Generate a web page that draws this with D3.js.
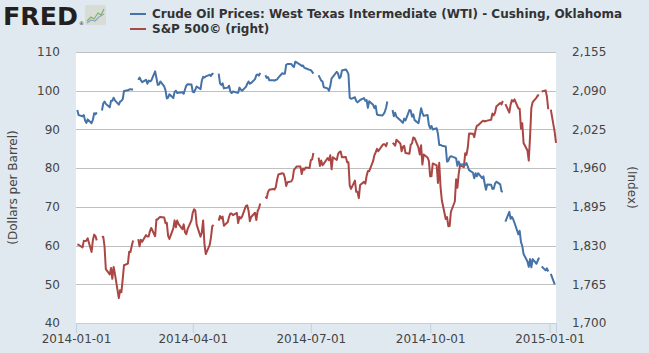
<!DOCTYPE html>
<html>
<head>
<meta charset="utf-8">
<script src="https://cdn.jsdelivr.net/npm/d3@7"></script>
<style>
  body { margin: 0; background: #e1e9f0; }
  svg { display: block; font-family: "DejaVu Sans", Verdana, sans-serif; }
</style>
</head>
<body>
<svg id="chart" width="649" height="353"></svg>
<script>
// WTI crude, dollars per barrel (null = missing day, line breaks)
const oilSeries = [
  ["2014-01-02",95.0],["2014-01-03",93.7],["2014-01-06",93.4],["2014-01-07",93.7],["2014-01-08",92.3],["2014-01-09",91.7],["2014-01-10",92.6],["2014-01-13",91.6],["2014-01-14",92.5],["2014-01-15",94.2],["2014-01-16",93.9],["2014-01-17",94.4],["2014-01-20",null],
  ["2014-01-21",94.9],["2014-01-22",96.7],["2014-01-23",97.2],["2014-01-24",96.6],["2014-01-27",95.7],["2014-01-28",97.4],["2014-01-29",97.4],["2014-01-30",98.2],["2014-01-31",97.5],
  ["2014-02-03",96.4],["2014-02-04",97.2],["2014-02-05",97.4],["2014-02-06",97.8],["2014-02-07",99.9],["2014-02-10",100.1],["2014-02-11",100.3],["2014-02-12",100.4],["2014-02-13",100.3],["2014-02-14",100.3],["2014-02-17",null],
  ["2014-02-18",102.8],["2014-02-19",103.4],["2014-02-20",102.7],["2014-02-21",102.2],["2014-02-24",102.8],["2014-02-25",101.8],["2014-02-26",102.6],["2014-02-27",102.4],["2014-02-28",102.6],
  ["2014-03-03",105.0],["2014-03-04",103.3],["2014-03-05",101.5],["2014-03-06",101.6],["2014-03-07",102.4],["2014-03-10",101.1],["2014-03-11",100.1],["2014-03-12",98.0],["2014-03-13",98.2],["2014-03-14",99.1],["2014-03-17",98.1],["2014-03-18",99.7],["2014-03-19",100.0],["2014-03-20",99.4],["2014-03-21",99.5],["2014-03-24",99.6],["2014-03-25",99.2],["2014-03-26",100.3],["2014-03-27",101.3],["2014-03-28",101.7],["2014-03-31",101.6],
  ["2014-04-01",99.7],["2014-04-02",99.6],["2014-04-03",100.3],["2014-04-04",101.1],["2014-04-07",100.4],["2014-04-08",102.6],["2014-04-09",103.6],["2014-04-10",103.4],["2014-04-11",103.7],["2014-04-14",104.1],["2014-04-15",103.8],["2014-04-16",104.4],["2014-04-17",104.3],["2014-04-18",null],
  ["2014-04-21",104.4],["2014-04-22",101.9],["2014-04-23",101.5],["2014-04-24",101.9],["2014-04-25",100.6],["2014-04-28",100.8],["2014-04-29",101.3],["2014-04-30",99.8],
  ["2014-05-01",99.4],["2014-05-02",99.8],["2014-05-05",99.5],["2014-05-06",99.5],["2014-05-07",100.8],["2014-05-08",100.3],["2014-05-09",100.0],["2014-05-12",101.0],["2014-05-13",101.8],["2014-05-14",102.4],["2014-05-15",101.8],["2014-05-16",102.0],["2014-05-19",103.0],["2014-05-20",104.0],["2014-05-21",104.2],["2014-05-22",103.9],["2014-05-23",104.6],["2014-05-26",null],
  ["2014-05-27",104.0],["2014-05-28",103.3],["2014-05-29",103.5],["2014-05-30",102.7],
  ["2014-06-02",102.7],["2014-06-03",102.6],["2014-06-04",102.8],["2014-06-05",102.9],["2014-06-06",103.4],["2014-06-09",104.5],["2014-06-10",104.4],["2014-06-11",104.4],["2014-06-12",106.7],["2014-06-13",106.9],["2014-06-16",106.9],["2014-06-17",106.4],["2014-06-18",106.1],["2014-06-19",107.5],["2014-06-20",107.3],["2014-06-23",106.7],["2014-06-24",106.4],["2014-06-25",106.5],["2014-06-26",105.9],["2014-06-27",105.8],["2014-06-30",105.4],
  ["2014-07-01",105.3],["2014-07-02",104.9],["2014-07-03",104.4],["2014-07-04",null],
  ["2014-07-07",104.0],["2014-07-08",103.3],["2014-07-09",102.6],["2014-07-10",102.4],["2014-07-11",100.9],["2014-07-14",100.6],["2014-07-15",100.0],["2014-07-16",101.2],["2014-07-17",103.2],["2014-07-18",103.6],["2014-07-21",104.9],["2014-07-22",104.4],["2014-07-23",103.2],["2014-07-24",103.6],["2014-07-25",105.2],["2014-07-28",105.5],["2014-07-29",105.0],["2014-07-30",104.3],["2014-07-31",98.2],
  ["2014-08-01",97.9],["2014-08-04",98.3],["2014-08-05",97.4],["2014-08-06",97.0],["2014-08-07",97.3],["2014-08-08",97.6],["2014-08-11",98.1],["2014-08-12",97.4],["2014-08-13",97.6],["2014-08-14",95.6],["2014-08-15",97.3],["2014-08-18",96.4],["2014-08-19",95.5],["2014-08-20",96.1],["2014-08-21",93.9],["2014-08-22",93.7],["2014-08-25",93.6],["2014-08-26",93.9],["2014-08-27",94.5],["2014-08-28",95.6],["2014-08-29",97.2],["2014-09-01",null],
  ["2014-09-02",95.0],["2014-09-03",93.4],["2014-09-04",94.3],["2014-09-05",93.3],["2014-09-08",92.4],["2014-09-09",92.0],["2014-09-10",91.7],["2014-09-11",92.8],["2014-09-12",92.3],["2014-09-15",95.0],["2014-09-16",94.9],["2014-09-17",93.3],["2014-09-18",93.9],["2014-09-19",92.4],["2014-09-22",91.6],["2014-09-23",93.4],["2014-09-24",95.5],["2014-09-25",94.3],["2014-09-26",93.5],["2014-09-29",93.7],["2014-09-30",91.2],
  ["2014-10-01",90.3],["2014-10-02",90.9],["2014-10-03",90.0],["2014-10-06",90.3],["2014-10-07",88.9],["2014-10-08",86.0],["2014-10-09",86.0],["2014-10-10",85.8],["2014-10-13",85.6],["2014-10-14",81.7],["2014-10-15",81.9],["2014-10-16",82.8],["2014-10-17",83.1],["2014-10-20",82.7],["2014-10-21",82.5],["2014-10-22",80.6],["2014-10-23",81.7],["2014-10-24",80.9],["2014-10-27",81.0],["2014-10-28",80.8],["2014-10-29",81.3],["2014-10-30",80.4],["2014-10-31",79.5],
  ["2014-11-03",78.8],["2014-11-04",77.4],["2014-11-05",78.7],["2014-11-06",77.9],["2014-11-07",78.7],["2014-11-10",77.4],["2014-11-11",77.9],["2014-11-12",76.1],["2014-11-13",74.4],["2014-11-14",75.8],["2014-11-17",75.7],["2014-11-18",74.6],["2014-11-19",74.7],["2014-11-20",76.0],["2014-11-21",76.5],["2014-11-24",75.8],["2014-11-25",74.0],["2014-11-26",73.9],["2014-11-27",null],
  ["2014-11-28",66.2],["2014-12-01",68.7],["2014-12-02",66.9],["2014-12-03",67.4],["2014-12-04",66.8],["2014-12-05",65.9],["2014-12-08",62.9],["2014-12-09",63.8],["2014-12-10",60.9],["2014-12-11",59.9],["2014-12-12",57.8],["2014-12-15",55.9],["2014-12-16",54.5],["2014-12-17",56.5],["2014-12-18",54.4],["2014-12-19",56.5],["2014-12-22",55.3],["2014-12-23",56.2],["2014-12-24",56.9],["2014-12-25",null],
  ["2014-12-26",54.6],["2014-12-29",53.6],["2014-12-30",54.1],["2014-12-31",53.3],["2015-01-01",null],["2015-01-02",52.7],["2015-01-05",50.0]
];

// S&P 500 index (right axis)
const spSeries = [
  ["2014-01-02",1832.0],["2014-01-03",1831.4],["2014-01-06",1826.8],["2014-01-07",1837.9],["2014-01-08",1837.5],["2014-01-09",1838.1],["2014-01-10",1842.4],["2014-01-13",1819.2],["2014-01-14",1838.9],["2014-01-15",1848.4],["2014-01-16",1845.9],["2014-01-17",1838.7],["2014-01-20",null],
  ["2014-01-21",1843.8],["2014-01-22",1844.9],["2014-01-23",1828.5],["2014-01-24",1790.3],["2014-01-27",1781.6],["2014-01-28",1792.5],["2014-01-29",1774.2],["2014-01-30",1794.2],["2014-01-31",1782.6],
  ["2014-02-03",1741.9],["2014-02-04",1755.2],["2014-02-05",1751.6],["2014-02-06",1773.4],["2014-02-07",1797.0],["2014-02-10",1799.8],["2014-02-11",1819.8],["2014-02-12",1819.3],["2014-02-13",1829.8],["2014-02-14",1838.6],["2014-02-17",null],
  ["2014-02-18",1840.8],["2014-02-19",1828.8],["2014-02-20",1839.8],["2014-02-21",1836.3],["2014-02-24",1847.6],["2014-02-25",1845.1],["2014-02-26",1845.2],["2014-02-27",1854.3],["2014-02-28",1859.5],
  ["2014-03-03",1845.7],["2014-03-04",1873.9],["2014-03-05",1873.8],["2014-03-06",1877.0],["2014-03-07",1878.0],["2014-03-10",1877.2],["2014-03-11",1867.6],["2014-03-12",1868.2],["2014-03-13",1846.3],["2014-03-14",1841.1],["2014-03-17",1858.8],["2014-03-18",1872.3],["2014-03-19",1860.8],["2014-03-20",1872.0],["2014-03-21",1866.5],["2014-03-24",1857.4],["2014-03-25",1865.6],["2014-03-26",1852.6],["2014-03-27",1849.0],["2014-03-28",1857.6],["2014-03-31",1872.3],
  ["2014-04-01",1885.5],["2014-04-02",1890.9],["2014-04-03",1888.8],["2014-04-04",1865.1],["2014-04-07",1845.0],["2014-04-08",1852.0],["2014-04-09",1872.2],["2014-04-10",1833.1],["2014-04-11",1815.7],["2014-04-14",1830.6],["2014-04-15",1843.0],["2014-04-16",1862.3],["2014-04-17",1864.9],["2014-04-18",null],
  ["2014-04-21",1871.9],["2014-04-22",1879.6],["2014-04-23",1875.4],["2014-04-24",1878.6],["2014-04-25",1863.4],["2014-04-28",1869.4],["2014-04-29",1878.3],["2014-04-30",1884.0],
  ["2014-05-01",1883.7],["2014-05-02",1881.1],["2014-05-05",1884.7],["2014-05-06",1867.7],["2014-05-07",1878.2],["2014-05-08",1875.6],["2014-05-09",1878.5],["2014-05-12",1896.7],["2014-05-13",1897.5],["2014-05-14",1888.5],["2014-05-15",1870.9],["2014-05-16",1877.9],["2014-05-19",1885.1],["2014-05-20",1872.8],["2014-05-21",1888.0],["2014-05-22",1892.5],["2014-05-23",1900.5],["2014-05-26",null],
  ["2014-05-27",1911.9],["2014-05-28",1909.8],["2014-05-29",1920.0],["2014-05-30",1923.6],
  ["2014-06-02",1925.0],["2014-06-03",1924.2],["2014-06-04",1927.9],["2014-06-05",1940.5],["2014-06-06",1949.4],["2014-06-09",1951.3],["2014-06-10",1950.8],["2014-06-11",1943.9],["2014-06-12",1930.1],["2014-06-13",1936.2],["2014-06-16",1937.8],["2014-06-17",1942.0],["2014-06-18",1957.0],["2014-06-19",1959.5],["2014-06-20",1962.9],["2014-06-23",1962.6],["2014-06-24",1950.0],["2014-06-25",1959.5],["2014-06-26",1957.2],["2014-06-27",1961.0],["2014-06-30",1960.2],
  ["2014-07-01",1973.3],["2014-07-02",1974.6],["2014-07-03",1985.4],["2014-07-04",null],
  ["2014-07-07",1977.7],["2014-07-08",1963.7],["2014-07-09",1972.8],["2014-07-10",1964.7],["2014-07-11",1967.6],["2014-07-14",1977.1],["2014-07-15",1973.3],["2014-07-16",1981.6],["2014-07-17",1958.1],["2014-07-18",1978.2],["2014-07-21",1973.6],["2014-07-22",1983.5],["2014-07-23",1987.0],["2014-07-24",1988.0],["2014-07-25",1978.3],["2014-07-28",1978.9],["2014-07-29",1970.0],["2014-07-30",1970.1],["2014-07-31",1930.7],
  ["2014-08-01",1925.2],["2014-08-04",1939.0],["2014-08-05",1920.2],["2014-08-06",1920.2],["2014-08-07",1909.6],["2014-08-08",1931.6],["2014-08-11",1936.9],["2014-08-12",1933.8],["2014-08-13",1946.7],["2014-08-14",1955.2],["2014-08-15",1955.1],["2014-08-18",1971.7],["2014-08-19",1981.6],["2014-08-20",1986.5],["2014-08-21",1992.4],["2014-08-22",1988.4],["2014-08-25",1997.9],["2014-08-26",2000.0],["2014-08-27",2000.1],["2014-08-28",1996.7],["2014-08-29",2003.4],["2014-09-01",null],
  ["2014-09-02",2002.3],["2014-09-03",2000.7],["2014-09-04",1997.7],["2014-09-05",2007.7],["2014-09-08",2001.5],["2014-09-09",1988.4],["2014-09-10",1995.7],["2014-09-11",1997.5],["2014-09-12",1985.5],["2014-09-15",1984.1],["2014-09-16",1999.0],["2014-09-17",2001.6],["2014-09-18",2011.4],["2014-09-19",2010.4],["2014-09-22",1994.3],["2014-09-23",1982.8],["2014-09-24",1998.3],["2014-09-25",1966.0],["2014-09-26",1982.9],["2014-09-29",1977.8],["2014-09-30",1972.3],
  ["2014-10-01",1946.2],["2014-10-02",1946.2],["2014-10-03",1967.9],["2014-10-06",1964.8],["2014-10-07",1935.1],["2014-10-08",1968.9],["2014-10-09",1928.2],["2014-10-10",1906.1],["2014-10-13",1874.7],["2014-10-14",1877.7],["2014-10-15",1862.5],["2014-10-16",1862.8],["2014-10-17",1886.8],["2014-10-20",1904.0],["2014-10-21",1941.3],["2014-10-22",1927.1],["2014-10-23",1950.8],["2014-10-24",1964.6],["2014-10-27",1961.6],["2014-10-28",1985.1],["2014-10-29",1982.3],["2014-10-30",1994.7],["2014-10-31",2018.1],
  ["2014-11-03",2017.8],["2014-11-04",2012.1],["2014-11-05",2023.6],["2014-11-06",2031.2],["2014-11-07",2031.9],["2014-11-10",2038.3],["2014-11-11",2039.7],["2014-11-12",2038.3],["2014-11-13",2039.3],["2014-11-14",2039.8],["2014-11-17",2041.3],["2014-11-18",2051.8],["2014-11-19",2048.7],["2014-11-20",2052.8],["2014-11-21",2063.5],["2014-11-24",2069.4],["2014-11-25",2067.0],["2014-11-26",2072.8],["2014-11-27",null],
  ["2014-11-28",2067.6],["2014-12-01",2053.4],["2014-12-02",2066.6],["2014-12-03",2074.3],["2014-12-04",2071.9],["2014-12-05",2075.4],["2014-12-08",2060.3],["2014-12-09",2059.8],["2014-12-10",2026.1],["2014-12-11",2035.3],["2014-12-12",2002.3],["2014-12-15",1989.6],["2014-12-16",1972.7],["2014-12-17",2012.9],["2014-12-18",2061.2],["2014-12-19",2070.7],["2014-12-22",2078.5],["2014-12-23",2082.2],["2014-12-24",2081.9],["2014-12-25",null],
  ["2014-12-26",2088.8],["2014-12-29",2090.6],["2014-12-30",2080.4],["2014-12-31",2058.9],["2015-01-01",null],["2015-01-02",2058.2],["2015-01-05",2020.6],["2015-01-06",2002.6]
];

const xTickDates = ["2014-01-01", "2014-04-01", "2014-07-01", "2014-10-01", "2015-01-01"];
const oilTicks = [40, 50, 60, 70, 80, 90, 100, 110];
const spTicks = [1700, 1765, 1830, 1895, 1960, 2025, 2090, 2155];
const legendLabels = [
  "Crude Oil Prices: West Texas Intermediate (WTI) - Cushing, Oklahoma",
  "S&P 500\u00A9 (right)"
];
const seriesColours = ["#4572a7", "#aa4643"];

const svg = d3.select('#chart');
const width = +svg.attr('width');
const height = +svg.attr('height');
const margin = { top: 52, right: 93, bottom: 30, left: 76 };
const innerWidth = width - margin.left - margin.right;
const innerHeight = height - margin.top - margin.bottom;
const parseDate = d3.timeParse('%Y-%m-%d');

svg.append('rect')
    .attr('width', width)
    .attr('height', height)
    .attr('fill', '#e1e9f0');

// FRED logo + little chart icon
svg.append('text')
    .attr('x', 3)
    .attr('y', 25)
    .attr('font-size', 25)
    .attr('font-weight', 'bold')
    .attr('textLength', 75)
    .attr('lengthAdjust', 'spacingAndGlyphs')
    .attr('fill', '#231f20')
    .text('FRED');
svg.append('text')
    .attr('x', 79)
    .attr('y', 25)
    .attr('font-size', 5)
    .attr('fill', '#231f20')
    .text('\u00AE');
const icon = svg.append('g').attr('transform', 'translate(85,5)');
icon.append('rect')
    .attr('width', 21).attr('height', 20).attr('rx', 2)
    .attr('fill', '#d7ddd4');
icon.append('polyline')
    .attr('points', '2,16 6,12 9,14 13,8 16,10 19,4')
    .attr('fill', 'none').attr('stroke', '#7fb36a').attr('stroke-width', 1.2);
icon.append('polyline')
    .attr('points', '2,18 6,15 10,16 14,12 19,9')
    .attr('fill', 'none').attr('stroke', '#8aa6c9').attr('stroke-width', 1.2);

// Legend
const legend = svg.selectAll('.legend-item').data(legendLabels)
  .enter().append('g')
    .attr('class', 'legend-item')
    .attr('transform', (d, i) => `translate(130,${14 + i * 15})`);
legend.append('line')
    .attr('x1', 0).attr('x2', 16)
    .attr('stroke', (d, i) => seriesColours[i])
    .attr('stroke-width', 2);
legend.append('text')
    .attr('x', 22)
    .attr('y', 4)
    .attr('font-size', 12)
    .attr('font-weight', 'bold')
    .attr('fill', '#333')
    .text(d => d);

const chart = svg.append('g')
    .attr('transform', `translate(${margin.left},${margin.top})`);

chart.append('rect')
    .attr('width', innerWidth)
    .attr('height', innerHeight)
    .attr('fill', '#fff');

// Scales
const xScale = d3.scaleTime()
    .domain([parseDate('2014-01-01'), parseDate('2015-01-06')])
    .range([0, innerWidth]);
const yOil = d3.scaleLinear().domain([40, 110]).range([innerHeight, 0]);
const ySp = d3.scaleLinear().domain([1700, 2155]).range([innerHeight, 0]);

// Gridlines
chart.selectAll('.grid').data(oilTicks.slice(1))
  .enter().append('line')
    .attr('class', 'grid')
    .attr('x1', 0).attr('x2', innerWidth)
    .attr('y1', d => Math.round(yOil(d)) + 0.5)
    .attr('y2', d => Math.round(yOil(d)) + 0.5)
    .attr('stroke', '#c0c0c0');

// Axes
const xAxis = d3.axisBottom(xScale)
    .tickValues(xTickDates.map(parseDate))
    .tickFormat(d3.timeFormat('%Y-%m-%d'))
    .tickSizeOuter(0)
    .tickSize(10)
    .tickPadding(1);
const xAxisG = chart.append('g')
    .attr('transform', `translate(0,${innerHeight})`)
    .call(xAxis);
xAxisG.select('.domain').attr('stroke', '#c0d0e0');
xAxisG.selectAll('.tick line').attr('stroke', '#c0d0e0');
xAxisG.selectAll('.tick text')
    .attr('font-size', 12)
    .attr('font-family', '"DejaVu Sans", Verdana, sans-serif')
    .attr('fill', '#444');

const yAxisL = d3.axisLeft(yOil).tickValues(oilTicks).tickSize(0).tickPadding(16);
const yAxisLG = chart.append('g').call(yAxisL);
yAxisLG.select('.domain').remove();
yAxisLG.selectAll('.tick text')
    .attr('font-size', 12)
    .attr('font-family', '"DejaVu Sans", Verdana, sans-serif')
    .attr('fill', '#444');

const yAxisR = d3.axisRight(ySp).tickValues(spTicks).tickSize(0).tickPadding(16)
    .tickFormat(d3.format(','));
const yAxisRG = chart.append('g')
    .attr('transform', `translate(${innerWidth},0)`)
    .call(yAxisR);
yAxisRG.select('.domain').remove();
yAxisRG.selectAll('.tick text')
    .attr('font-size', 12)
    .attr('font-family', '"DejaVu Sans", Verdana, sans-serif')
    .attr('fill', '#444');

// Axis titles
svg.append('text')
    .attr('transform', `translate(17,${margin.top + innerHeight / 2}) rotate(-90)`)
    .attr('text-anchor', 'middle')
    .attr('font-size', 12)
    .attr('fill', '#444')
    .text('(Dollars per Barrel)');
svg.append('text')
    .attr('transform', `translate(628,${margin.top + innerHeight / 2}) rotate(90)`)
    .attr('text-anchor', 'middle')
    .attr('font-size', 12)
    .attr('fill', '#444')
    .text('(Index)');

// Lines
const oilLine = d3.line()
    .defined(d => d[1] != null)
    .x(d => xScale(parseDate(d[0])))
    .y(d => yOil(d[1]));
const spLine = d3.line()
    .defined(d => d[1] != null)
    .x(d => xScale(parseDate(d[0])))
    .y(d => ySp(d[1]));

chart.append('path')
    .datum(spSeries)
    .attr('fill', 'none')
    .attr('stroke', seriesColours[1])
    .attr('stroke-width', 2)
    .attr('stroke-linejoin', 'round')
    .attr('d', spLine);
chart.append('path')
    .datum(oilSeries)
    .attr('fill', 'none')
    .attr('stroke', seriesColours[0])
    .attr('stroke-width', 2)
    .attr('stroke-linejoin', 'round')
    .attr('d', oilLine);
</script>
</body>
</html>
